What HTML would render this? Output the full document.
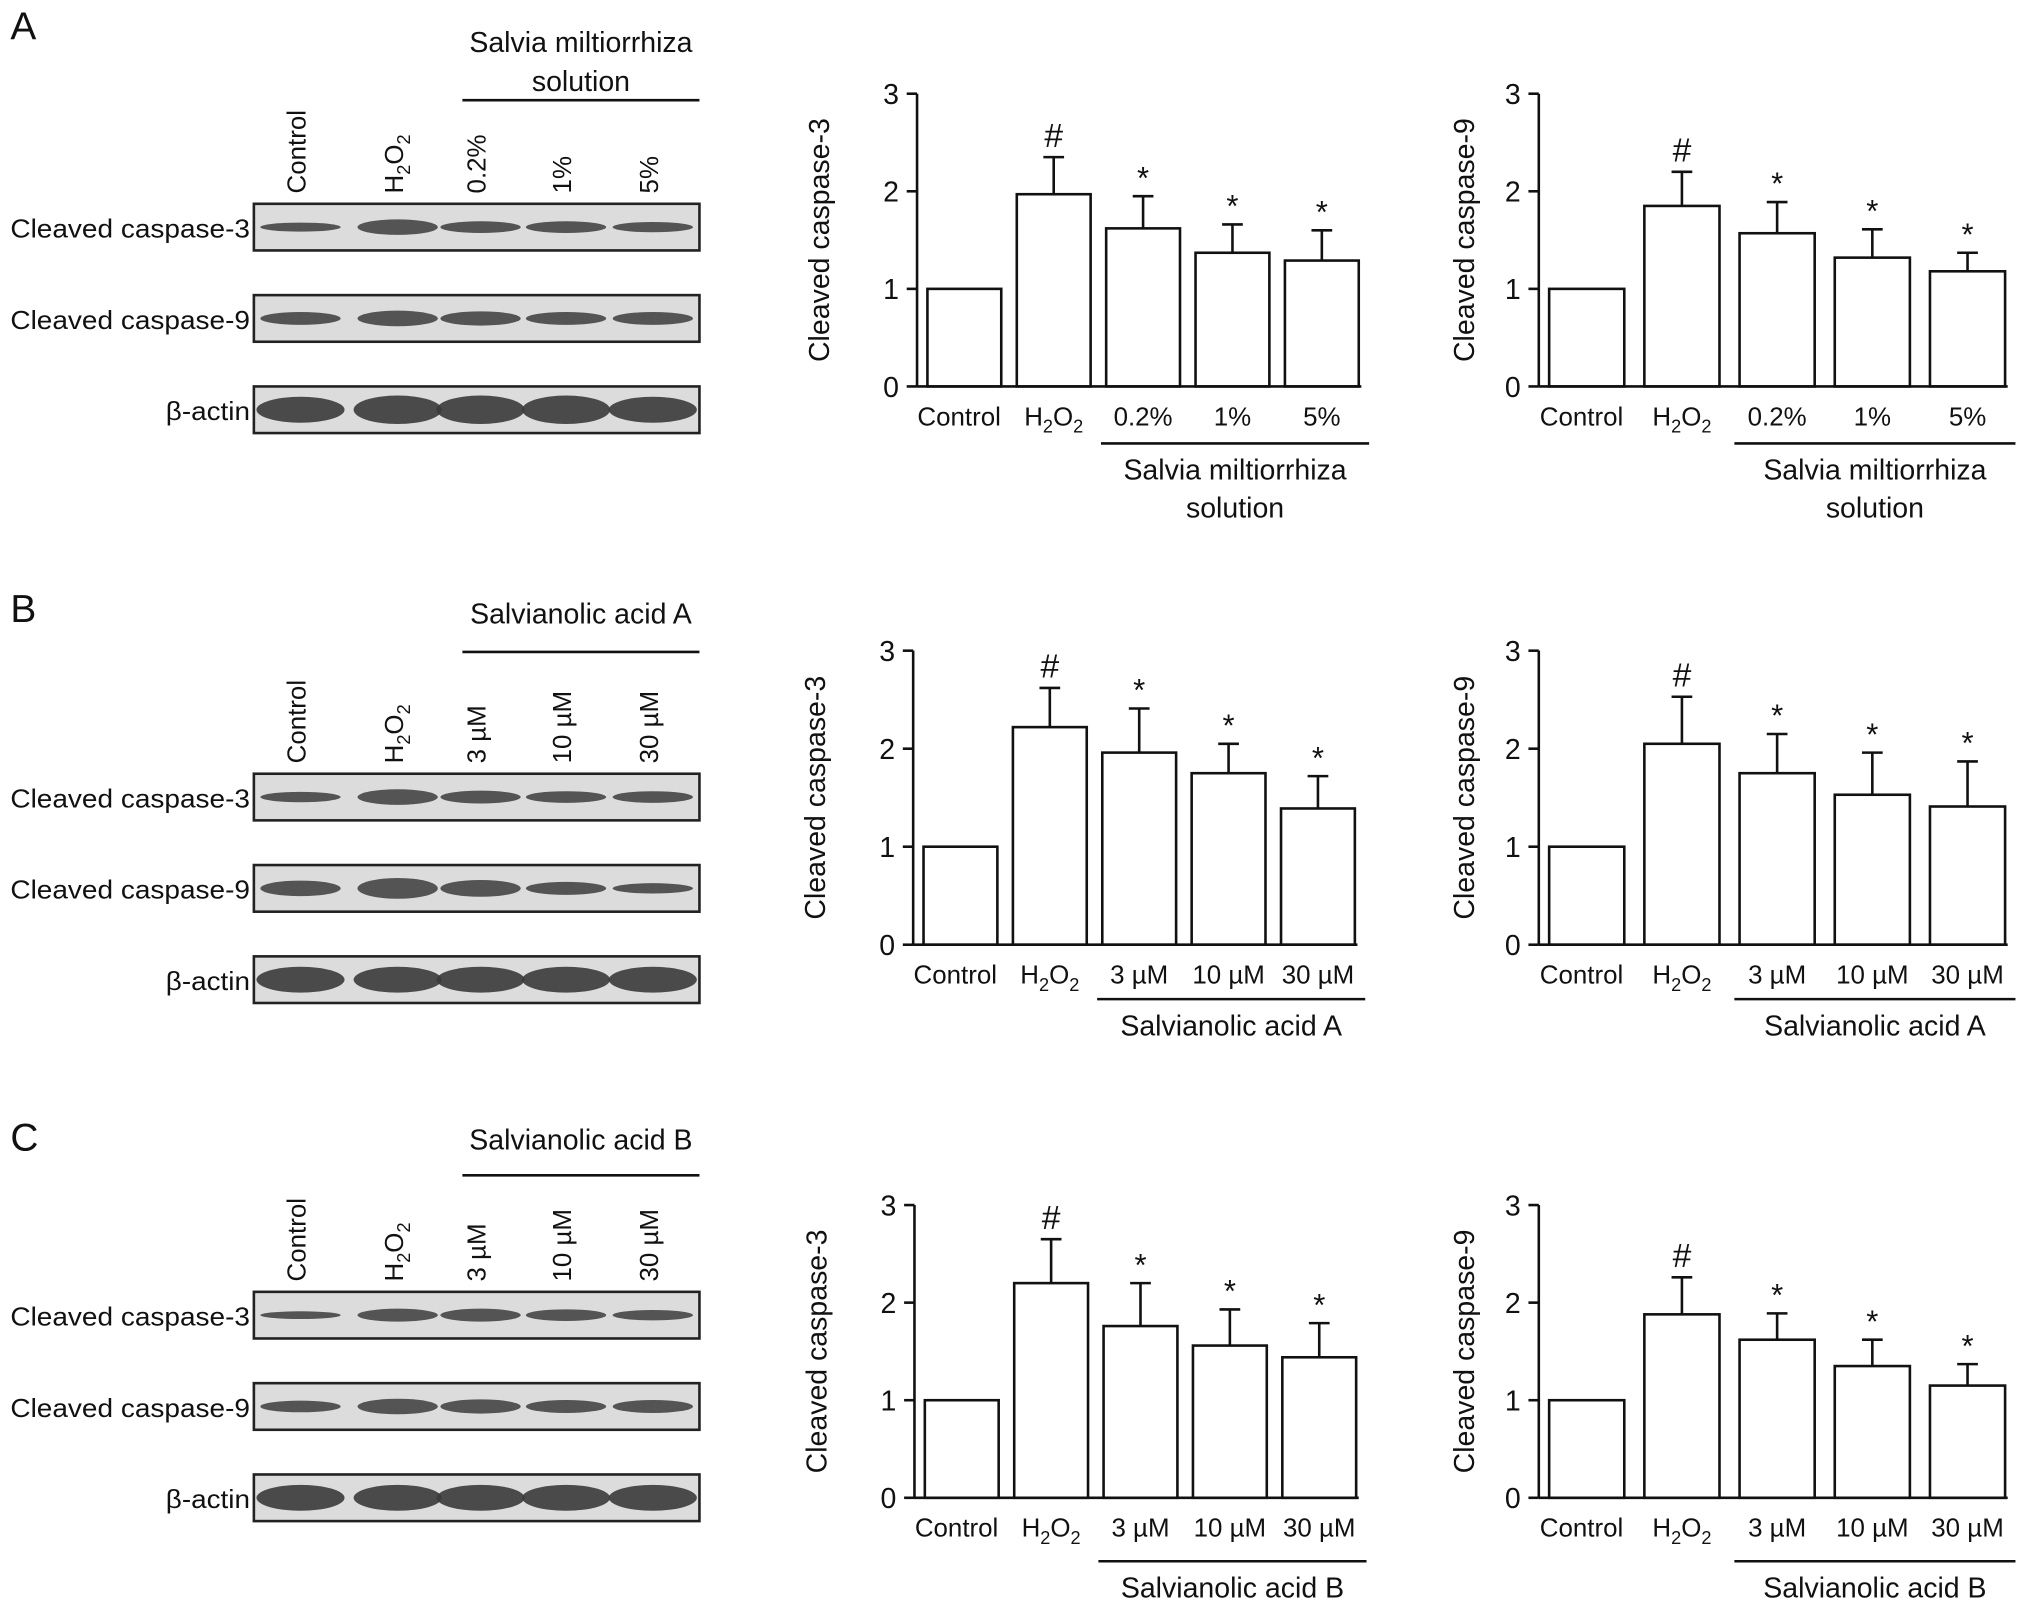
<!DOCTYPE html>
<html><head><meta charset="utf-8"><style>
html,body{margin:0;padding:0;background:#fff}
svg{display:block;font-family:"Liberation Sans",Arial,sans-serif}
</style></head><body>
<svg id="fig" width="2031" height="1620" viewBox="0 0 1568 1250" xmlns="http://www.w3.org/2000/svg">
<g id="root"></g>
</svg>
<script>
// ---- data ----
const categoriesA = ["Control","H2O2","0.2%","1%","5%"];
const categoriesBC = ["Control","H2O2","3 µM","10 µM","30 µM"];
const aCasp3 = [1, 1.97, 1.62, 1.37, 1.29];
const aCasp3Err = [0, 0.38, 0.33, 0.29, 0.31];
const aCasp9 = [1, 1.85, 1.57, 1.32, 1.18];
const aCasp9Err = [0, 0.35, 0.32, 0.29, 0.19];
const bCasp3 = [1, 2.22, 1.96, 1.75, 1.39];
const bCasp3Err = [0, 0.40, 0.45, 0.30, 0.33];
const bCasp9 = [1, 2.05, 1.75, 1.53, 1.41];
const bCasp9Err = [0, 0.48, 0.40, 0.43, 0.46];
const cCasp3 = [1, 2.20, 1.76, 1.56, 1.44];
const cCasp3Err = [0, 0.45, 0.44, 0.37, 0.35];
const cCasp9 = [1, 1.88, 1.62, 1.35, 1.15];
const cCasp9Err = [0, 0.38, 0.27, 0.27, 0.22];
const sigMarks = ["", "#", "*", "*", "*"];
const yTicks = [0, 1, 2, 3];

const NS="http://www.w3.org/2000/svg";
const root=document.getElementById('root');
function el(tag,attrs,parent,text){const e=document.createElementNS(NS,tag);for(const k in attrs)e.setAttribute(k,attrs[k]);if(text!==undefined)e.textContent=text;(parent||root).appendChild(e);return e;}

function catLabel(g,x,y,name,size,anchor,rot){
  const t=el('text',{x:x,y:y,'font-size':size,'text-anchor':anchor||'middle',fill:'#111'},g);
  if(rot) t.setAttribute('transform','rotate(-90 '+x+' '+y+')');
  if(name==="H2O2"){
    t.appendChild(document.createTextNode('H'));
    el('tspan',{'font-size':size*0.7,dy:size*0.28},t,'2');
    el('tspan',{'font-size':size,dy:-size*0.28},t,'O');
    el('tspan',{'font-size':size*0.7,dy:size*0.28},t,'2');
  } else t.textContent=name;
  return t;
}

function drawChart(ax, y0, y3, vals, errs, cats, yTitle, groupLines, lineY, name, bw, step, titleOff){
  const g=el('g',{});
  
  
  const ys=v=>y0+(y3-y0)*v/3;
  const x0=ax+8;
  const xb=i=>x0+i*step;
  el('line',{x1:ax,y1:ys(0),x2:ax,y2:ys(3),stroke:'#111','stroke-width':2},g);
  yTicks.forEach(t=>{
    el('line',{x1:ax-8,y1:ys(t),x2:ax,y2:ys(t),stroke:'#111','stroke-width':2},g);
    const lab=el('text',{x:ax-14,y:ys(t)+8,'font-size':22,'text-anchor':'end',fill:'#111'},g,String(t));
    
    
  });
  const tx=ax-titleOff, ty=(ys(0)+ys(3))/2;
  const yt=el('text',{x:tx,y:ty,'font-size':22,'text-anchor':'middle',fill:'#111',transform:'rotate(-90 '+tx+' '+ty+')'},g,yTitle);
  
  
  vals.forEach((v,i)=>{
    const x=xb(i), cx=x+bw/2;
    if(errs[i]>0){
      const e=el('line',{x1:cx,y1:ys(v),x2:cx,y2:ys(v+errs[i]),stroke:'#111','stroke-width':2},g);
      
      el('line',{x1:cx-8,y1:ys(v+errs[i]),x2:cx+8,y2:ys(v+errs[i]),stroke:'#111','stroke-width':2},g);
    }
    const r=el('rect',{x:x,y:ys(v),width:bw,height:ys(0)-ys(v),fill:'#fff',stroke:'#111','stroke-width':2},g);
    
    
    if(sigMarks[i]){
      const isHash=sigMarks[i]==="#";
      const s=el('text',{x:cx,y:ys(v+errs[i])-(isHash?8:6),'font-size':isHash?26:24,'text-anchor':'middle',fill:'#111'},g,sigMarks[i]);
      
      
    }
    const cl=catLabel(g,cx+(i===0?-4:0),ys(0)+30,cats[i],20);
    
    
  });
  el('line',{x1:ax,y1:ys(0),x2:xb(4)+bw+2,y2:ys(0),stroke:'#111','stroke-width':2},g);
  const lx1=xb(2)-4, lx2=xb(4)+bw+8;
  el('line',{x1:lx1,y1:lineY,x2:lx2,y2:lineY,stroke:'#111','stroke-width':2},g);
  groupLines.forEach((t,k)=>{
    const gt=el('text',{x:(lx1+lx2)/2,y:lineY+28+k*29,'font-size':22,'text-anchor':'middle',fill:'#111'},g,t);
    
    
  });
}

function drawBlot(top, cats, header, headerY, lineY, name, bands){
  const g=el('g',{});
  
  
  const lanes=[228,303,367,433,500];
  const rowNames=["Cleaved caspase-3","Cleaved caspase-9","β-actin"];
  cats.forEach((c,i)=>{
    const t=catLabel(g,lanes[i]+8,top-8,c,20,'start',true);
    
    
  });
  el('line',{x1:lanes[2]-10,y1:lineY,x2:540,y2:lineY,stroke:'#111','stroke-width':2},g);
  header.forEach((h,k)=>{
    const ht=el('text',{x:(lanes[2]-10+540)/2,y:headerY+k*30,'font-size':22,'text-anchor':'middle',fill:'#111'},g,h);
    
    
  });
  rowNames.forEach((rn,r)=>{
    const y=top+r*70.5;
    const box=el('rect',{x:196,y:y,width:344,height:36,fill:'#dcdcdc',stroke:'#222','stroke-width':2},g);
    
    const lab=el('text',{x:193,y:y+26,'font-size':20,'text-anchor':'end',fill:'#111',textLength:r===2?65:185,lengthAdjust:'spacingAndGlyphs'},g,rn);
    
    
    lanes.forEach((lx,i)=>{
      const th=bands[r][i];
      el('ellipse',{cx:lx+4,cy:y+18,rx:r===2?34:31,ry:th,fill:r===2?'#3a3a3a':'#454545',opacity:0.9},g);
    });
  });
}

const bandsA=[[3.5,6,4.5,4.5,4],[5,6,5.5,5,5],[10,11,11,11,10]];
const bandsB=[[4,6,5,4.5,4.5],[6,8,6.5,5,4],[10,10,10,10,10]];
const bandsC=[[3,5,5,4.5,4],[4.5,6,5.5,5,5],[10,10,10,10,10]];

drawBlot(157,["Control","H2O2","0.2%","1%","5%"],["Salvia miltiorrhiza","solution"],40,77,'western-blot-a',bandsA);
drawBlot(597,["Control","H2O2","3 µM","10 µM","30 µM"],["Salvianolic acid A"],481,503,'western-blot-b',bandsB);
drawBlot(997,["Control","H2O2","3 µM","10 µM","30 µM"],["Salvianolic acid B"],887,907,'western-blot-c',bandsC);

drawChart(708,298,72,aCasp3,aCasp3Err,categoriesA,"Cleaved caspase-3",["Salvia miltiorrhiza","solution"],342,'chart-a-caspase3',57,69,68);
drawChart(1188,298,72,aCasp9,aCasp9Err,categoriesA,"Cleaved caspase-9",["Salvia miltiorrhiza","solution"],342,'chart-a-caspase9',58,73.5,50);
drawChart(705,729,502,bCasp3,bCasp3Err,categoriesBC,"Cleaved caspase-3",["Salvianolic acid A"],771,'chart-b-caspase3',57,69,68);
drawChart(1188,729,502,bCasp9,bCasp9Err,categoriesBC,"Cleaved caspase-9",["Salvianolic acid A"],771,'chart-b-caspase9',58,73.5,50);
drawChart(706,1156,930,cCasp3,cCasp3Err,categoriesBC,"Cleaved caspase-3",["Salvianolic acid B"],1205,'chart-c-caspase3',57,69,68);
drawChart(1188,1156,930,cCasp9,cCasp9Err,categoriesBC,"Cleaved caspase-9",["Salvianolic acid B"],1205,'chart-c-caspase9',58,73.5,50);

[["A",30],["B",480],["C",888]].forEach(p=>{
  const t=el('text',{x:8,y:p[1],'font-size':30,fill:'#111'},root,p[0]);
  
  
});
</script>
</body></html>
